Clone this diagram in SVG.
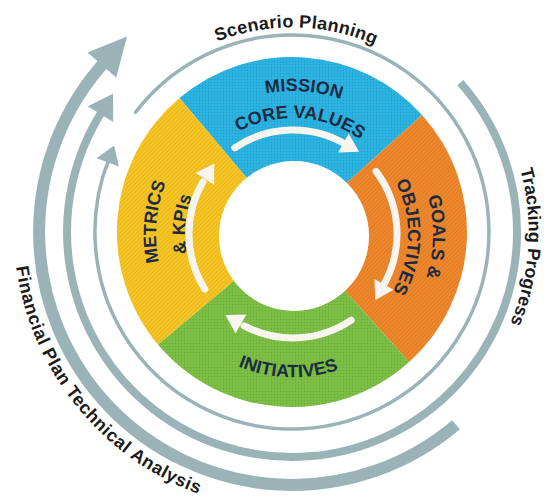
<svg xmlns="http://www.w3.org/2000/svg" width="547" height="501" viewBox="0 0 547 501">
<style>
.grey{fill:none;stroke:#9ab3b7}
.greyhead{fill:#9ab3b7}
.outer{font-family:"Liberation Sans",Arial,sans-serif;font-weight:700;font-size:18px;fill:#1b1b1b}
.inner{font-family:"Liberation Sans",Arial,sans-serif;font-weight:700;font-size:18px;fill:#1c2a42}
.shaft{fill:none;stroke:#f7f5ee;stroke-width:7;stroke-linecap:round}
.head{fill:#f7f5ee}
</style>
<defs>
<pattern id="dots" width="3" height="3" patternUnits="userSpaceOnUse">
<circle cx="1.5" cy="1.5" r="0.7" fill="#000000" fill-opacity="0.12"/>
</pattern>
<pattern id="stripes" width="3" height="3" patternUnits="userSpaceOnUse" patternTransform="rotate(45)">
<rect width="1" height="3" fill="#000000" fill-opacity="0.08"/>
</pattern>
<path id="pScenario" d="M86.05,227.69 A206,206 0 0 1 497.95,236.31"/>
<path id="pTracking" d="M307.36,-5.5 A238,238 0 0 1 276.64,469.5"/>
<path id="pFinancial" d="M114.7,11.5 A283,283 0 0 0 469.3,452.5"/>
<path id="pMission" d="M150.4,223.28 A143,143 0 0 1 435.6,244.72"/>
<path id="pCore" d="M177.24,226.51 A116,116 0 0 1 408.76,241.49"/>
<path id="pGoals" d="M295.9,94 A140,140 0 0 1 290.1,374"/>
<path id="pObj" d="M296,119 A115,115 0 0 1 290,349"/>
<path id="pMetrics" d="M281.06,370.48 A137,137 0 0 1 304.94,97.52"/>
<path id="pKpis" d="M283.5,342.58 A109,109 0 0 1 302.5,125.42"/>
<path id="pInit" d="M149.09,228.97 A144,144 0 0 0 436.91,239.03"/>
</defs>
<rect width="547" height="501" fill="#ffffff"/>

<g id="scenario-planning">
<path class="grey" stroke-width="3.5" stroke-linecap="round" d="M135.5,112.3 A197,197 0 1 1 109.3,158.2"/>
<polygon class="greyhead" points="114.1,145.6 96.5,158.2 118.9,166.6"/>
<text class="outer"><textPath href="#pScenario" startOffset="50%" text-anchor="middle" letter-spacing="0.3">Scenario Planning</textPath></text>
</g>

<g id="tracking-progress">
<path class="grey" stroke-width="8" d="M460.3,82.6 A225,225 0 1 1 103.3,109.5"/>
<polygon class="greyhead" points="113,93.7 87.6,106.2 113.2,122"/>
<text class="outer"><textPath href="#pTracking" startOffset="50%" text-anchor="middle">Tracking Progress</textPath></text>
</g>

<g id="financial-plan">
<path class="grey" stroke-width="12" d="M456,424.7 A253,253 0 0 1 107,59.5"/>
<polygon class="greyhead" points="127,36.45 87.6,52.5 116.2,77.5"/>
<text class="outer"><textPath href="#pFinancial" startOffset="50%" text-anchor="middle" letter-spacing="0.6">Financial Plan Technical Analysis</textPath></text>
</g>

<g id="mission">
<path fill="#2bb3e2" d="M292,232 L179.5,97.9 A175,175 0 0 1 422,114.9 Z"/>
<path fill="url(#dots)" d="M292,232 L179.5,97.9 A175,175 0 0 1 422,114.9 Z"/>
<text class="inner"><textPath href="#pMission" startOffset="50%" text-anchor="middle">MISSION</textPath></text>
<text class="inner"><textPath href="#pCore" startOffset="50%" text-anchor="middle">CORE VALUES</textPath></text>
</g>

<g id="goals">
<path fill="#f0872b" d="M292,232 L422,114.9 A175,175 0 0 1 409.1,362 Z"/>
<path fill="url(#stripes)" d="M292,232 L422,114.9 A175,175 0 0 1 409.1,362 Z"/>
<text class="inner"><textPath href="#pGoals" startOffset="50%" text-anchor="middle">GOALS &amp;</textPath></text>
<text class="inner"><textPath href="#pObj" startOffset="50%" text-anchor="middle">OBJECTIVES</textPath></text>
</g>

<g id="initiatives">
<path fill="#7cbf45" d="M292,232 L409.1,362 A175,175 0 0 1 157.9,344.5 Z"/>
<path fill="url(#dots)" d="M292,232 L409.1,362 A175,175 0 0 1 157.9,344.5 Z"/>
<text class="inner"><textPath href="#pInit" startOffset="50%" text-anchor="middle">INITIATIVES</textPath></text>
</g>

<g id="metrics">
<path fill="#f8c623" d="M292,232 L157.9,344.5 A175,175 0 0 1 179.5,97.9 Z"/>
<path fill="url(#stripes)" d="M292,232 L157.9,344.5 A175,175 0 0 1 179.5,97.9 Z"/>
<text class="inner"><textPath href="#pMetrics" startOffset="50%" text-anchor="middle">METRICS</textPath></text>
<text class="inner"><textPath href="#pKpis" startOffset="50%" text-anchor="middle">&amp; KPIs</textPath></text>
</g>

<g id="hub">
<circle cx="294" cy="236" r="75" fill="#ffffff"/>
</g>

<g id="connectors">
<path class="shaft" d="M234.8,147.8 A104,104 0 0 1 346.6,144.9"/>
<polygon class="head" points="359.1,151.7 348.7,133.4 338.1,152.6"/>
<path class="shaft" d="M376.1,171.4 A104,104 0 0 1 382.1,287.6"/>
<polygon class="head" points="375.3,300.1 393.6,289.7 374.4,279.1"/>
<path class="shaft" d="M351.2,320.2 A104,104 0 0 1 244.2,325.8"/>
<polygon class="head" points="225.4,315.1 235.5,333.6 246.5,314.6"/>
<path class="shaft" d="M204.8,289.1 A104,104 0 0 1 202.9,182"/>
<polygon class="head" points="214.3,163.6 195.5,173.1 214.1,184.7"/>
</g>
</svg>
